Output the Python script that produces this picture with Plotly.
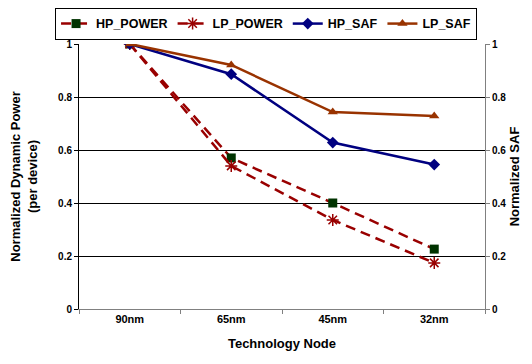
import plotly.graph_objects as go

categories = ["90nm", "65nm", "45nm", "32nm"]
hp_power = [1.0, 0.57, 0.40, 0.226]
lp_power = [1.0, 0.54, 0.336, 0.174]
hp_saf = [1.0, 0.886, 0.628, 0.545]
lp_saf = [1.0, 0.921, 0.743, 0.728]
tick_vals = [0, 0.2, 0.4, 0.6, 0.8, 1]
tick_text = ["0", "0.2", "0.4", "0.6", "0.8", "1"]

FONT = "Liberation Sans"
fig = go.Figure()
fig.add_trace(go.Scatter(
    x=categories, y=hp_power, name="HP_POWER", mode="lines+markers",
    line=dict(color="#990000", width=2.5, dash="10px,6px"),
    marker=dict(symbol="square", size=9, color="#003300"),
))
fig.add_trace(go.Scatter(
    x=categories, y=lp_power, name="LP_POWER", mode="lines+markers",
    line=dict(color="#990000", width=2.5, dash="10px,6px"),
    marker=dict(symbol="asterisk-open", size=10, color="#990000",
                line=dict(color="#990000", width=1.5)),
))
fig.add_trace(go.Scatter(
    x=categories, y=hp_saf, name="HP_SAF", mode="lines+markers", yaxis="y2",
    line=dict(color="#000080", width=2.5),
    marker=dict(symbol="diamond", size=9, color="#000080"),
))
fig.add_trace(go.Scatter(
    x=categories, y=lp_saf, name="LP_SAF", mode="lines+markers", yaxis="y2",
    line=dict(color="#993300", width=2.5),
    marker=dict(symbol="triangle-up", size=9, color="#993300"),
))

fig.update_layout(
    width=524, height=356,
    margin=dict(l=71, r=47, t=36, b=55, autoexpand=False),
    paper_bgcolor="white", plot_bgcolor="white",
    font=dict(family=FONT, size=10, color="#000000", weight="bold"),
    showlegend=True,
    legend=dict(
        orientation="h", x=-0.059, xanchor="left",
        y=1.136, yanchor="top", yref="paper",
        bordercolor="#000000", borderwidth=1, bgcolor="white",
        font=dict(family=FONT, size=12.5, weight="bold"),
        itemwidth=30, tracegroupgap=0,
    ),
    xaxis=dict(
        type="category", tickson="boundaries", ticks="outside", ticklen=4,
        tickcolor="#808080", showline=True, linecolor="#808080", linewidth=1,
        showgrid=False, range=[-0.5, 3.5], automargin=False,
        tickfont=dict(family=FONT, size=11, weight="bold"),
        title=dict(text="Technology Node", standoff=14,
                   font=dict(family=FONT, size=13, weight="bold")),
    ),
    yaxis=dict(
        range=[0, 1], tickvals=tick_vals, ticktext=tick_text,
        ticks="outside", ticklen=4, tickcolor="#000000",
        showline=True, linecolor="#000000", linewidth=1, automargin=False,
        showgrid=True, gridcolor="#000000", gridwidth=1, zeroline=False,
        tickfont=dict(family=FONT, size=10, weight="bold"),
        title=dict(text="Normalized Dynamic Power<br>(per device)", standoff=18,
                   font=dict(family=FONT, size=13, weight="bold")),
    ),
    yaxis2=dict(
        range=[0, 1], tickvals=tick_vals, ticktext=tick_text,
        overlaying="y", side="right", automargin=False,
        ticks="outside", ticklen=4, tickcolor="#808080",
        showline=True, linecolor="#808080", linewidth=1,
        showgrid=False, zeroline=False,
        tickfont=dict(family=FONT, size=10, weight="bold"),
        title=dict(text="Normalized SAF", standoff=4,
                   font=dict(family=FONT, size=13, weight="bold")),
    ),
)
fig.write_html("out.html")
